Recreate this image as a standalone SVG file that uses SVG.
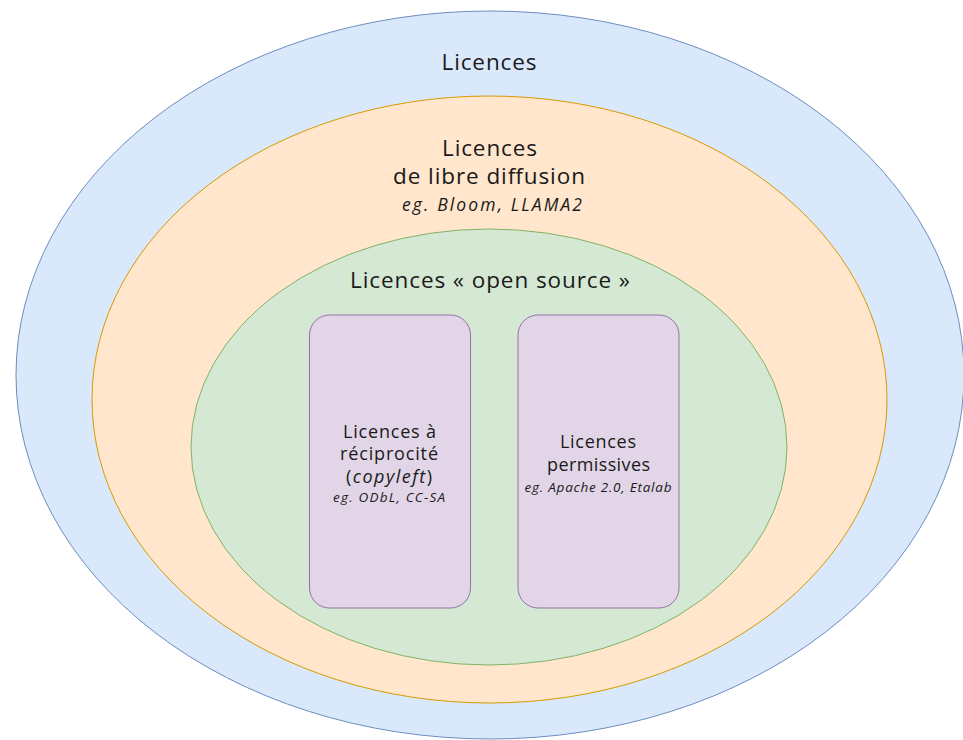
<svg xmlns="http://www.w3.org/2000/svg" width="963" height="740" viewBox="0 0 963 740">
<style>
text{font-family:"Open Sans","Noto Sans","Liberation Sans",sans-serif;fill:#1a1a1a;text-anchor:middle}
.big{font-size:22.5px}
.mid{font-size:18px}
.ex{font-style:italic;font-size:17.5px}
.exs{font-style:italic;font-size:13.5px}
.box{fill:#e1d5e7;stroke:#9673a6;stroke-width:1}
</style>
<rect width="963" height="740" fill="#ffffff"/>
<g id="licences">
<ellipse cx="490" cy="375" rx="474" ry="364" fill="#dae8fc" stroke="#6c8ebf" stroke-width="1"/>
<text class="big" x="489" y="70" textLength="95" lengthAdjust="spacing">Licences</text>
</g>
<g id="libre-diffusion">
<ellipse cx="489.5" cy="399.5" rx="397.5" ry="303.5" fill="#ffe6cc" stroke="#d79b00" stroke-width="1"/>
<text class="big" x="489.5" y="156" textLength="95" lengthAdjust="spacing">Licences</text>
<text class="big" x="489" y="184" textLength="192" lengthAdjust="spacing">de libre diffusion</text>
<text class="ex" x="492" y="211" textLength="180" lengthAdjust="spacing">eg. Bloom, LLAMA2</text>
</g>
<g id="open-source">
<ellipse cx="489" cy="447" rx="298" ry="218" fill="#d5e8d4" stroke="#82b366" stroke-width="1"/>
<text class="big" x="490" y="288" textLength="280" lengthAdjust="spacing">Licences « open source »</text>
</g>
<g id="reciprocite">
<rect class="box" x="309.5" y="315" width="161" height="293" rx="20"/>
<text class="mid" x="389.5" y="437.5" textLength="93" lengthAdjust="spacing">Licences à</text>
<text class="mid" x="389" y="460" textLength="98" lengthAdjust="spacing">réciprocité</text>
<text class="mid" x="389" y="483" textLength="86" lengthAdjust="spacing">(<tspan font-style="italic">copyleft</tspan>)</text>
<text class="exs" x="389" y="501.5" textLength="112" lengthAdjust="spacing">eg. ODbL, CC-SA</text>
</g>
<g id="permissives">
<rect class="box" x="518" y="315" width="161" height="293" rx="20"/>
<text class="mid" x="598" y="448" textLength="76" lengthAdjust="spacing">Licences</text>
<text class="mid" x="598.5" y="471" textLength="103" lengthAdjust="spacing">permissives</text>
<text class="exs" x="598" y="492" textLength="147" lengthAdjust="spacing">eg. Apache 2.0, Etalab</text>
</g>
<g id="connectors"></g>
</svg>
